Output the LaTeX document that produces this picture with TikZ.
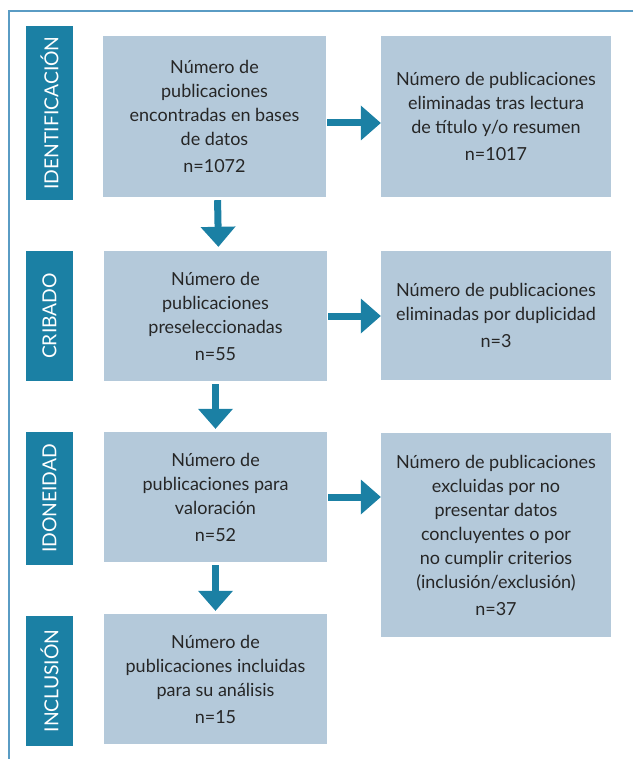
\documentclass[tikz,border=0pt]{standalone}
\usepackage{fontspec}
\setmainfont{Lato}
\usepackage{xcolor}
\usepackage{tikz}
\usetikzlibrary{arrows.meta}

\definecolor{azulfase}{RGB}{27,128,164}
\definecolor{azulcaja}{RGB}{180,201,218}
\definecolor{azulmarco}{RGB}{90,156,196}
\definecolor{textocaja}{RGB}{38,38,38}

\tikzset{
  fase/.style={fill=azulfase, text=white, rotate=90, font=\fontsize{19.3}{22}\selectfont,
    inner sep=0pt, minimum height=47pt},
  caja/.style={fill=azulcaja, text=textocaja, align=center, inner sep=0pt,
    font=\fontsize{18}{24}\selectfont},
  flecha/.style={draw=azulfase, line width=7pt,
    -{Triangle[width=35pt,length=20pt,line width=0pt]}},
}

\begin{document}
\begin{tikzpicture}[x=1pt,y=-1pt]
\useasboundingbox (0,0) rectangle (633,759);
\draw[azulmarco, line width=1.2pt] (633,11) -- (9,11) -- (9,759);
% etiquetas de fase
\node[fase, minimum width=174pt] (l1) at (49.5,113) {IDENTIFICACIÓN};
\node[fase, minimum width=130pt] (l2) at (49.5,316) {CRIBADO};
\node[fase, minimum width=133pt] (l3) at (49.5,498.5) {IDONEIDAD};
\node[fase, minimum width=130pt] (l4) at (49.5,681) {INCLUSIÓN};
% cajas principales
\node[caja, minimum width=223pt, minimum height=161pt] (b1) at (214.5,116.5)
  {Número de\\publicaciones\\encontradas en bases\\de datos\\[3pt]n=1072};
\node[caja, minimum width=223pt, minimum height=130pt] (b2) at (215.5,316)
  {Número de\\publicaciones\\preseleccionadas\\[3pt]n=55};
\node[caja, minimum width=223pt, minimum height=130pt] (b3) at (215.5,497)
  {Número de\\publicaciones para\\valoración\\[3pt]n=52};
\node[caja, minimum width=223pt, minimum height=130pt] (b4) at (215.5,679)
  {Número de\\publicaciones incluidas\\para su análisis\\[3pt]n=15};
% cajas de descarte
\node[caja, minimum width=230pt, minimum height=161pt] (r1) at (496,116.5)
  {Número de publicaciones\\eliminadas tras lectura\\de título y/o resumen\\[3pt]n=1017};
\node[caja, minimum width=230pt, minimum height=129pt] (r2) at (496,315.5)
  {Número de publicaciones\\eliminadas por duplicidad\\[3pt]n=3};
\node[caja, minimum width=230pt, minimum height=204pt] (r3) at (496,535)
  {Número de publicaciones\\excluidas por no\\presentar datos\\concluyentes o por\\no cumplir criterios\\(inclusión/exclusión)\\[3pt]n=37};
% flechas
\draw[flecha, shorten <=3pt, shorten >=4pt] ([xshift=3pt]b1.south) -- ([xshift=3pt]b2.north);
\draw[flecha, shorten <=3pt, shorten >=3pt] (b2.south) -- (b3.north);
\draw[flecha, shorten <=3pt, shorten >=3pt] (b3.south) -- (b4.north);
\draw[flecha, shorten <=1pt] ([yshift=-6.5pt]b1.east) -- ([yshift=-6.5pt]b1.east -| r1.west);
\draw[flecha, shorten <=1pt] (b2.east) -- (b2.east -| r2.west);
\draw[flecha, shorten <=1pt] (b3.east) -- (b3.east -| r3.west);
\end{tikzpicture}
\end{document}
